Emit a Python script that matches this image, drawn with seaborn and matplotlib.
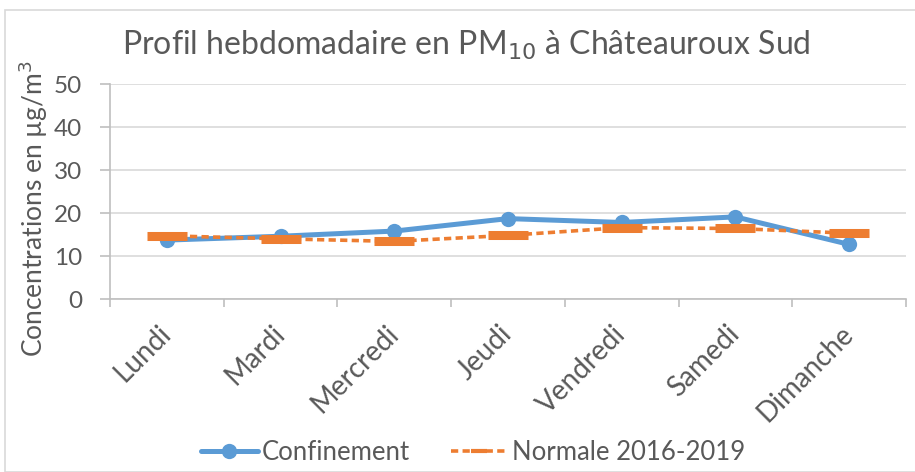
import matplotlib
matplotlib.use("Agg")
import matplotlib.pyplot as plt
import matplotlib.transforms as mtransforms
import seaborn as sns
import pandas as pd
from matplotlib.patches import Rectangle

# Données
jours = ["Lundi", "Mardi", "Mercredi", "Jeudi", "Vendredi", "Samedi", "Dimanche"]
confinement = [13.7, 14.6, 15.8, 18.7, 17.8, 19.1, 12.7]
normale = [14.7, 14.0, 13.4, 14.8, 16.6, 16.4, 15.3]

bleu = "#5B9BD5"
orange = "#ED7D31"
gris_txt = "#595959"

sns.set_style("white")
plt.rcParams['font.family'] = ['Lato', 'DejaVu Sans']

df = pd.DataFrame({"Jour": jours, "Confinement": confinement, "Normale": normale})

fig = plt.figure(figsize=(9.15, 4.72), dpi=100)
ax = fig.add_axes([110 / 915, 0.3665, 796 / 915, 0.4555])

sns.lineplot(data=df, x="Jour", y="Confinement", ax=ax, sort=False,
             color=bleu, linewidth=3.6, marker="o", markersize=11,
             markeredgewidth=0, label="Confinement")
sns.lineplot(data=df, x="Jour", y="Normale", ax=ax, sort=False,
             color=orange, linewidth=2.6, linestyle=(0, (2.0, 1.2)),
             marker="_", markersize=29, markeredgewidth=6.5,
             markeredgecolor=orange, label="Normale 2016-2019")

ax.set_ylim(0, 50)
ax.set_xlim(-0.5, len(jours) - 0.5)
ax.set_yticks(range(0, 51, 10))
ax.yaxis.grid(True, color="#D9D9D9", linewidth=1.2)
ax.set_axisbelow(True)

for s in ["top", "right"]:
    ax.spines[s].set_visible(False)
for s in ["left", "bottom"]:
    ax.spines[s].set_color("#BFBFBF")
    ax.spines[s].set_linewidth(1.2)

# graduations entre les catégories
ax.set_xticks([i + 0.5 for i in range(-1, len(jours))], minor=True)
ax.set_xticks(range(len(jours)))
ax.set_xticklabels(jours, rotation=45, ha="right", va="center",
                   rotation_mode="anchor", fontsize=20, color=gris_txt)
decal = mtransforms.ScaledTranslation(4 / 100, 0, fig.dpi_scale_trans)
for lab in ax.get_xticklabels():
    lab.set_transform(lab.get_transform() + decal)
ax.tick_params(axis="x", which="major", length=0, pad=22)
ax.tick_params(axis="x", which="minor", length=6, color="#BFBFBF", width=1.2)
ax.tick_params(axis="y", length=7, color="#BFBFBF", width=1.2,
               labelsize=17.5, labelcolor=gris_txt, pad=13)
ax.yaxis.set_ticks_position("left")
ax.xaxis.set_ticks_position("bottom")

ax.set_xlabel("")
ax.set_ylabel("Concentrations en µg/m$^3$", fontsize=19, color=gris_txt)
ax.yaxis.set_label_coords(-0.0754, 0.42)

fig.text(0.51, 0.905, "Profil hebdomadaire en PM$_{10}$ à Châteauroux Sud",
         ha="center", va="center", fontsize=23, color=gris_txt)

leg = ax.legend(loc="center", bbox_to_anchor=(0.517, 0.042),
                bbox_transform=fig.transFigure, ncol=2, frameon=False,
                fontsize=18.5, handlelength=2.2, columnspacing=1.6,
                handletextpad=0.16)
leg.legend_handles[0].set_markersize(11)
leg.legend_handles[1].set_markersize(11)
leg.legend_handles[1].set_markeredgewidth(3)
for t in leg.get_texts():
    t.set_color(gris_txt)

# cadre de la zone de graphique
fig.patches.append(Rectangle((5 / 915, 0), 1.2, 1 - 10 / 472,
                             transform=fig.transFigure, fill=False,
                             edgecolor="#D9D9D9", linewidth=1.2))

fig.savefig("out.png", dpi=100)
